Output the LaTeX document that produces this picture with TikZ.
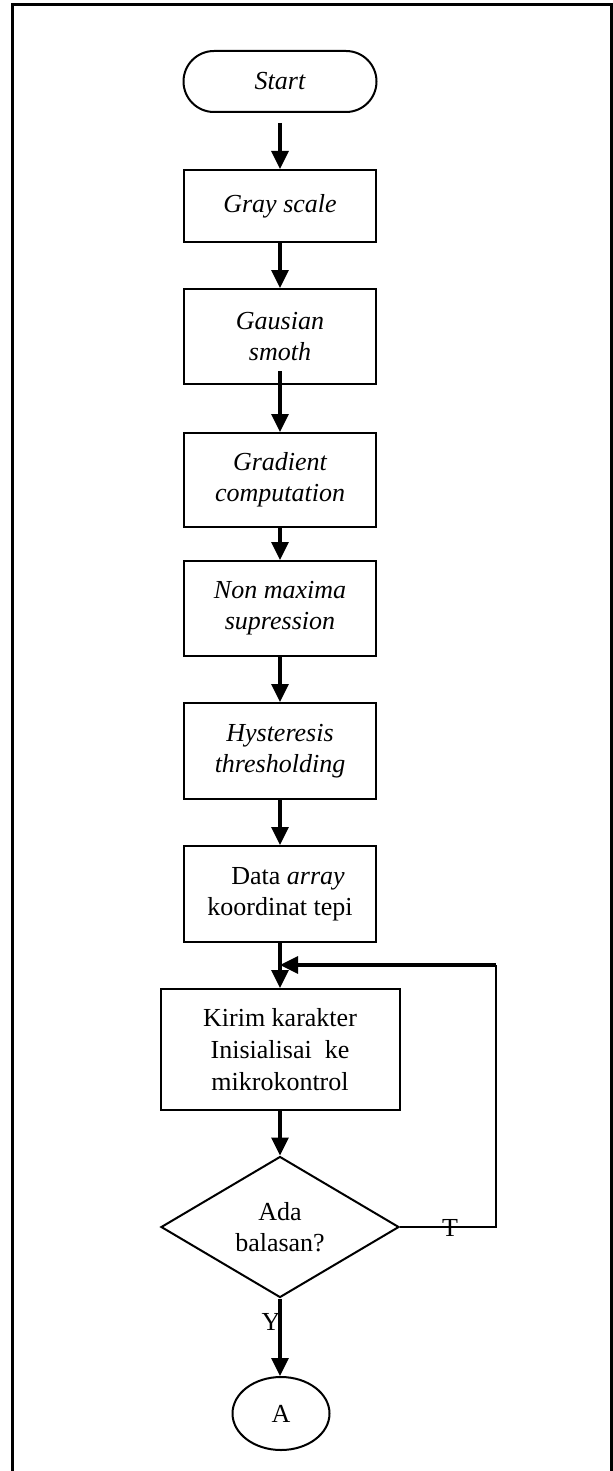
\documentclass[tikz,border=0pt]{standalone}
\usepackage{fontspec}
\setmainfont{Liberation Serif}
\usetikzlibrary{shapes.geometric,shapes.misc,arrows.meta}
\begin{document}
\begin{tikzpicture}[x=0.5pt,y=-0.5pt,
  font=\fontsize{13}{15.5}\selectfont,
  procbox/.style={draw,line width=1pt,rectangle,minimum width=96pt,align=center,inner sep=0pt},
  startbox/.style={draw,line width=1pt,rounded rectangle,minimum width=96.5pt,minimum height=30.5pt,inner sep=0pt},
  decbox/.style={draw,line width=1pt,diamond,minimum width=119pt,minimum height=70.5pt,inner sep=0pt,align=center},
  connbox/.style={draw,line width=1pt,ellipse,minimum width=48.5pt,minimum height=36.5pt,inner sep=0pt},
  flow/.style={line width=1.6pt,-{Triangle[width=8.5pt,length=9pt]}},
  plainline/.style={line width=1pt},
  lbl/.style={inner sep=0pt}
]
\useasboundingbox (0,0) rectangle (613,1471);
% frame
\draw[line width=1.5pt] (12.5,1471) -- (12.5,4.5) -- (611.5,4.5) -- (611.5,1471);

\node[startbox] (start) at (280,81.5) {\itshape Start};
\node[procbox,minimum height=36pt] (gray) at (280,206) {\itshape Gray scale};
\node[procbox,minimum height=47.5pt] (gaus) at (280,336.5) {\itshape Gausian\\\itshape smoth};
\node[procbox,minimum height=47pt] (grad) at (280,480) {\itshape Gradient\\\itshape computation};
\node[procbox,minimum height=47.5pt] (nonmax) at (280,608.5) {\itshape Non maxima\\\itshape supression};
\node[procbox,minimum height=48pt] (hyst) at (280,751) {\itshape Hysteresis\\\itshape thresholding};
\node[procbox,minimum height=48pt] (data) at (280,894) {\hspace{8pt}Data \textit{array}\\koordinat tepi};
\node[procbox,minimum width=119.5pt,minimum height=60.5pt,font=\fontsize{13}{16}\selectfont] (kirim) at (280,1049.5) {Kirim karakter\\Inisialisai~ ke\\mikrokontrol};
\node[decbox] (dec) at (280,1227) {Ada\\balasan?};
\node[connbox] (conA) at (281,1413.5) {A};

\coordinate (tr) at (496,1227);
\coordinate (tt) at (496,965);
\coordinate (tj) at (280,965);

\draw[flow] ([yshift=-5pt]start.south) -- (gray.north);
\draw[flow] (gray.south) -- (gaus.north);
\draw[flow] ([yshift=7pt]gaus.south) -- (grad.north);
\draw[flow] (grad.south) -- (nonmax.north);
\draw[flow] (nonmax.south) -- (hyst.north);
\draw[flow] (hyst.south) -- (data.north);
\draw[flow] (data.south) -- (kirim.north);
\draw[flow] (kirim.south) -- (dec.north);
\draw[plainline] (dec.east) -- (tr) -- (tt);
\draw[flow] (tt) -- (tj);
\draw[flow] (dec.south) -- (dec.south |- conA.north);

\node[lbl] (tlab) at (450,1228) {T};
\node[lbl] (ylab) at (271,1322) {Y};
\end{tikzpicture}
\end{document}
